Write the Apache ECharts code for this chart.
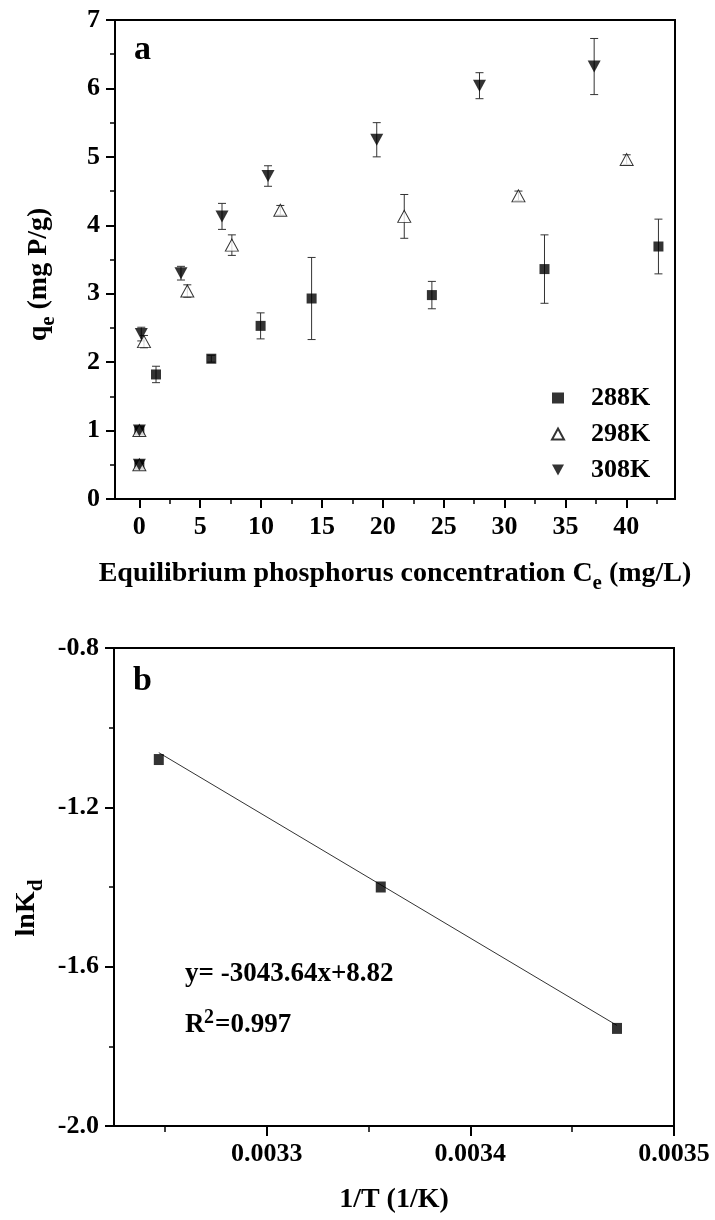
<!DOCTYPE html>
<html>
<head>
<meta charset="utf-8">
<script src="https://cdn.jsdelivr.net/npm/echarts@6/dist/echarts.min.js"></script>
<style>
  html, body { margin: 0; padding: 0; background: #fff; }
  #chart { width: 715px; height: 1220px; }
</style>
</head>
<body>
<div id="chart"></div>
<script>
// ---- Panel a: adsorption isotherms (Ce in mg/L, qe in mg P/g, error = SD) ----
const ce288 = [0, 0, 1.37, 5.91, 9.96, 14.15, 24.03, 33.28, 42.64];
const qe288 = [0.50, 1.00, 1.82, 2.05, 2.53, 2.93, 2.98, 3.36, 3.69];
const sd288 = [0.02, 0.02, 0.12, 0.05, 0.19, 0.60, 0.20, 0.50, 0.40];

const ce298 = [0, 0, 0.38, 3.94, 7.60, 11.58, 21.76, 31.14, 40.03];
const qe298 = [0.50, 1.00, 2.30, 3.04, 3.71, 4.22, 4.13, 4.43, 4.96];
const sd298 = [0.02, 0.02, 0.09, 0.09, 0.15, 0.07, 0.32, 0.07, 0.07];

const ce308 = [0, 0, 0.16, 3.42, 6.79, 10.57, 19.50, 27.94, 37.36];
const qe308 = [0.50, 1.00, 2.41, 3.30, 4.13, 4.72, 5.25, 6.04, 6.32];
const sd308 = [0.02, 0.02, 0.10, 0.10, 0.19, 0.15, 0.25, 0.19, 0.41];

const seriesNames = ['288K', '298K', '308K'];
const xTicksA = [0, 5, 10, 15, 20, 25, 30, 35, 40];
const xMinorA = [2.5, 7.5, 12.5, 17.5, 22.5, 27.5, 32.5, 37.5, 42.5];

// ---- Panel b: van't Hoff plot ----
const invT = [0.003247, 0.003356, 0.003472];   // 1/308, 1/298, 1/288
const lnKd = [-1.08, -1.40, -1.755];
const fitSlope = -3043.64;
const fitIntercept = 8.82;
const xTicksB = [0.0033, 0.0034, 0.0035];
const xMinorB = [0.00325, 0.00335, 0.00345];

const FONT = "'Liberation Serif', 'Times New Roman', serif";
const BLACK = '#000';

function zip3(a, b, c) { return a.map((v, i) => [v, b[i], c[i]]); }
function zip2(a, b) { return a.map((v, i) => [v, b[i]]); }

// vertical error bar with caps, placed through the axis scales
function errorBar(params, api) {
  const x = api.value(0), y = api.value(1), e = api.value(2);
  const hi = api.coord([x, y + e]);
  const lo = api.coord([x, y - e]);
  const w = 4;
  const style = { stroke: '#333', lineWidth: 1 };
  return {
    type: 'group',
    children: [
      { type: 'line', shape: { x1: hi[0], y1: hi[1], x2: lo[0], y2: lo[1] }, style },
      { type: 'line', shape: { x1: hi[0] - w, y1: hi[1], x2: hi[0] + w, y2: hi[1] }, style },
      { type: 'line', shape: { x1: lo[0] - w, y1: lo[1], x2: lo[0] + w, y2: lo[1] }, style }
    ]
  };
}

const labelStyle = { color: BLACK, fontFamily: FONT, fontWeight: 'bold', fontSize: 26 };
// subscript token: its top padding makes the line taller and drops the glyphs below the baseline
const nameRich = {
  t: { fontFamily: FONT, fontWeight: 'bold', fontSize: 28, color: BLACK },
  s: { fontFamily: FONT, fontWeight: 'bold', fontSize: 21, color: BLACK,
       verticalAlign: 'bottom', padding: [20, 0, 0, 0] }
};
const axisLine = { show: true, onZero: false, lineStyle: { color: BLACK, width: 2 } };

const grids = [
  { left: 115, right: 40, top: 20, height: 479, show: true, borderColor: BLACK, borderWidth: 2 },
  { left: 114, right: 41, top: 648, height: 478, show: true, borderColor: BLACK, borderWidth: 2 }
];

const xAxes = [
  { // panel a main x axis
    gridIndex: 0, type: 'value', min: -2, max: 44, position: 'bottom',
    axisLine, splitLine: { show: false },
    axisTick: { show: true, customValues: xTicksA, length: 9, lineStyle: { color: BLACK, width: 2 } },
    axisLabel: Object.assign({ customValues: xTicksA, margin: 15 }, labelStyle),
    name: '{t|Equilibrium phosphorus concentration C}{s|e}{t| (mg/L)}',
    nameLocation: 'middle', nameGap: 54, nameTextStyle: { rich: nameRich }
  },
  { // panel a half-step ticks
    gridIndex: 0, type: 'value', min: -2, max: 44, position: 'bottom',
    axisLine: { show: false, onZero: false }, splitLine: { show: false },
    axisTick: { show: true, customValues: xMinorA, length: 5, lineStyle: { color: BLACK, width: 1.5 } },
    axisLabel: { show: false }
  },
  { // panel b main x axis
    gridIndex: 1, type: 'value', min: 0.003225, max: 0.0035, position: 'bottom',
    axisLine, splitLine: { show: false },
    axisTick: { show: true, customValues: xTicksB, length: 10, lineStyle: { color: BLACK, width: 2 } },
    axisLabel: Object.assign({ customValues: xTicksB, margin: 15, formatter: v => v.toFixed(4) }, labelStyle),
    name: '{t|1/T (1/K)}',
    nameLocation: 'middle', nameGap: 60, nameTextStyle: { rich: nameRich }
  },
  { // panel b intermediate ticks
    gridIndex: 1, type: 'value', min: 0.003225, max: 0.0035, position: 'bottom',
    axisLine: { show: false, onZero: false }, splitLine: { show: false },
    axisTick: { show: true, customValues: xMinorB, length: 6, lineStyle: { color: BLACK, width: 1.5 } },
    axisLabel: { show: false }
  }
];

const yAxes = [
  {
    gridIndex: 0, type: 'value', min: 0, max: 7, interval: 1,
    axisLine, splitLine: { show: false },
    axisTick: { show: true, length: 9, lineStyle: { color: BLACK, width: 2 } },
    minorTick: { show: true, splitNumber: 2, length: 5, lineStyle: { color: BLACK, width: 1.5 } },
    minorSplitLine: { show: false },
    axisLabel: Object.assign({ margin: 15 }, labelStyle),
    name: '{t|q}{s|e}{t| (mg P/g)}',
    nameLocation: 'middle', nameRotate: 90, nameGap: 56,
    nameTextStyle: { rich: nameRich, padding: [0, 30, 0, 0] }
  },
  {
    gridIndex: 1, type: 'value', min: -2, max: -0.8, interval: 0.4,
    axisLine, splitLine: { show: false },
    axisTick: { show: true, length: 9, lineStyle: { color: BLACK, width: 2 } },
    minorTick: { show: true, splitNumber: 2, length: 5, lineStyle: { color: BLACK, width: 1.5 } },
    minorSplitLine: { show: false },
    axisLabel: Object.assign({ margin: 15, formatter: v => v.toFixed(1) }, labelStyle),
    name: '{t|lnK}{s|d}',
    nameLocation: 'middle', nameRotate: 90, nameGap: 56,
    nameTextStyle: { rich: nameRich, padding: [0, 42, 0, 0] }
  }
];

const panelA = [
  { name: seriesNames[0], ce: ce288, qe: qe288, sd: sd288,
    symbol: 'rect', size: [10, 10], itemStyle: { color: BLACK } },
  { name: seriesNames[1], ce: ce298, qe: qe298, sd: sd298,
    symbol: 'triangle', size: [13, 12], itemStyle: { color: '#fff', borderColor: BLACK, borderWidth: 1 } },
  { name: seriesNames[2], ce: ce308, qe: qe308, sd: sd308,
    symbol: 'path://M0,0 L12,0 L6,11 Z', size: [13, 12], itemStyle: { color: BLACK } }
];

const series = [];
panelA.forEach(s => {
  series.push({
    name: s.name + ' SD', type: 'custom', xAxisIndex: 0, yAxisIndex: 0,
    renderItem: errorBar, encode: { x: 0, y: 1 },
    data: zip3(s.ce, s.qe, s.sd), z: 2, silent: true
  });
});
panelA.forEach(s => {
  series.push({
    name: s.name, type: 'scatter', xAxisIndex: 0, yAxisIndex: 0,
    symbol: s.symbol, symbolSize: s.size, itemStyle: s.itemStyle,
    data: zip2(s.ce, s.qe), z: 3
  });
});

// regression line y = a x + b across the measured temperature range
const fitX = [invT[0], invT[invT.length - 1]];
series.push({
  name: 'fit', type: 'line', xAxisIndex: 2, yAxisIndex: 1,
  data: fitX.map(x => [x, fitSlope * x + fitIntercept]),
  showSymbol: false, symbol: 'none', lineStyle: { color: '#333', width: 1 }, z: 2, silent: true
});
series.push({
  name: 'lnKd', type: 'scatter', xAxisIndex: 2, yAxisIndex: 1,
  symbol: 'rect', symbolSize: [10, 11], itemStyle: { color: BLACK },
  data: zip2(invT, lnKd), z: 3
});

const textFont = size => 'bold ' + size + 'px ' + FONT;

const chart = echarts.init(document.getElementById('chart'), null, { renderer: 'canvas', width: 715, height: 1220 });
chart.setOption({
  backgroundColor: '#fff',
  animation: false,
  grid: grids,
  xAxis: xAxes,
  yAxis: yAxes,
  legend: {
    data: seriesNames,
    orient: 'vertical', left: 546, top: 380,
    itemWidth: 12, itemHeight: 11, itemGap: 10,
    textStyle: { color: BLACK, fontFamily: FONT, fontWeight: 'bold', fontSize: 26, lineHeight: 26, padding: [0, 0, 0, 22] },
    selectedMode: false
  },
  graphic: [
    { type: 'text', left: 134, top: 33, style: { text: 'a', fill: BLACK, font: textFont(34) } },
    { type: 'text', left: 133, top: 664, style: { text: 'b', fill: BLACK, font: textFont(34) } },
    { type: 'text', left: 185, top: 961, style: { text: 'y= -3043.64x+8.82', fill: BLACK, font: textFont(27) } },
    { type: 'text', left: 185, top: 1012, style: { text: 'R', fill: BLACK, font: textFont(27) } },
    { type: 'text', left: 204, top: 1008, style: { text: '2', fill: BLACK, font: textFont(20) } },
    { type: 'text', left: 215, top: 1012, style: { text: '=0.997', fill: BLACK, font: textFont(27) } }
  ],
  series
});
</script>
</body>
</html>
